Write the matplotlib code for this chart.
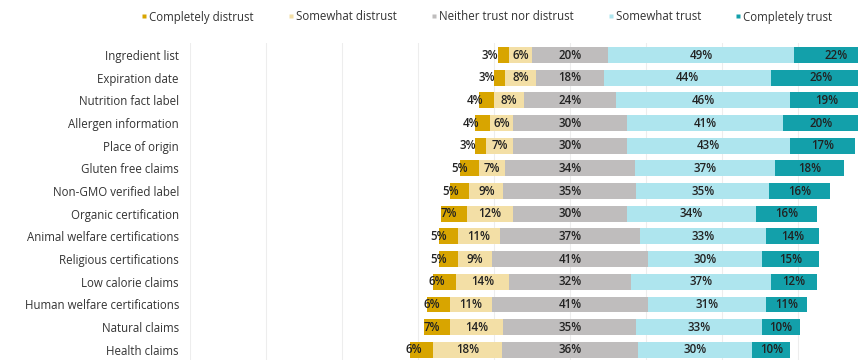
import numpy as np
import matplotlib.pyplot as plt
from matplotlib.lines import Line2D

plt.rcParams['font.family'] = ['Open Sans', 'DejaVu Sans']

items = ["Ingredient list", "Expiration date", "Nutrition fact label", "Allergen information",
         "Place of origin", "Gluten free claims", "Non-GMO verified label", "Organic certification",
         "Animal welfare certifications", "Religious certifications", "Low calorie claims",
         "Human welfare certifications", "Natural claims", "Health claims"]

completely_distrust = [3, 3, 4, 4, 3, 5, 5, 7, 5, 5, 6, 6, 7, 6]
somewhat_distrust = [6, 8, 8, 6, 7, 7, 9, 12, 11, 9, 14, 11, 14, 18]
neither = [20, 18, 24, 30, 30, 34, 35, 30, 37, 41, 32, 41, 35, 36]
somewhat_trust = [49, 44, 46, 41, 43, 37, 35, 34, 33, 30, 37, 31, 33, 30]
completely_trust = [22, 26, 19, 20, 17, 18, 16, 16, 14, 15, 12, 11, 10, 10]

series_names = ["Completely distrust", "Somewhat distrust", "Neither trust nor distrust",
                "Somewhat trust", "Completely trust"]
colors = ["#D8A500", "#F3DFA6", "#BFBDBD", "#AEE5EE", "#13A0AA"]

data = np.array([completely_distrust, somewhat_distrust, neither,
                 somewhat_trust, completely_trust], dtype=float)

fig = plt.figure(figsize=(8.58, 3.6), dpi=100)
ax = fig.add_axes([190 / 858, 0, 668 / 858, 1 - 43 / 360])

y = np.arange(len(items))
# diverging: centre of the neutral segment sits on zero
left = -(data[0] + data[1] + data[2] / 2)

for k in range(5):
    ax.barh(y, data[k], left=left, height=0.7, color=colors[k], zorder=2)
    for i in range(len(items)):
        v = data[k][i]
        if k == 0:
            xt = left[i] + v - 2.8
            ha = 'right'
        else:
            xt = left[i] + v / 2
            ha = 'center'
        ax.text(xt, y[i], f"{int(v)}%", ha=ha, va='center', fontsize=8.3,
                fontweight='semibold', color='#222222', zorder=3)
    left = left + data[k]

for gx in range(-100, 101, 20):
    ax.axvline(gx, color='#EDEDED', lw=0.8, zorder=0)

ax.set_xlim(-100, 75.8)
ax.set_ylim(13.45, -0.53)
ax.set_yticks(y)
ax.set_yticklabels(items, fontsize=8.3, color='#333333')
ax.tick_params(axis='y', length=0, pad=8)
ax.set_xticks([])
for s in ax.spines.values():
    s.set_visible(False)

handles = [Line2D([0], [0], marker='s', color='none', markerfacecolor=c,
                  markeredgecolor='none', markersize=3.5) for c in colors]
fig.legend(handles, series_names, loc='center', bbox_to_anchor=(0.567, 1 - 17 / 360),
           ncol=5, frameon=False, fontsize=8.3, handlelength=0.6, handletextpad=0.15,
           columnspacing=2.9, labelcolor='#333333')

fig.savefig("out.png", dpi=100)
